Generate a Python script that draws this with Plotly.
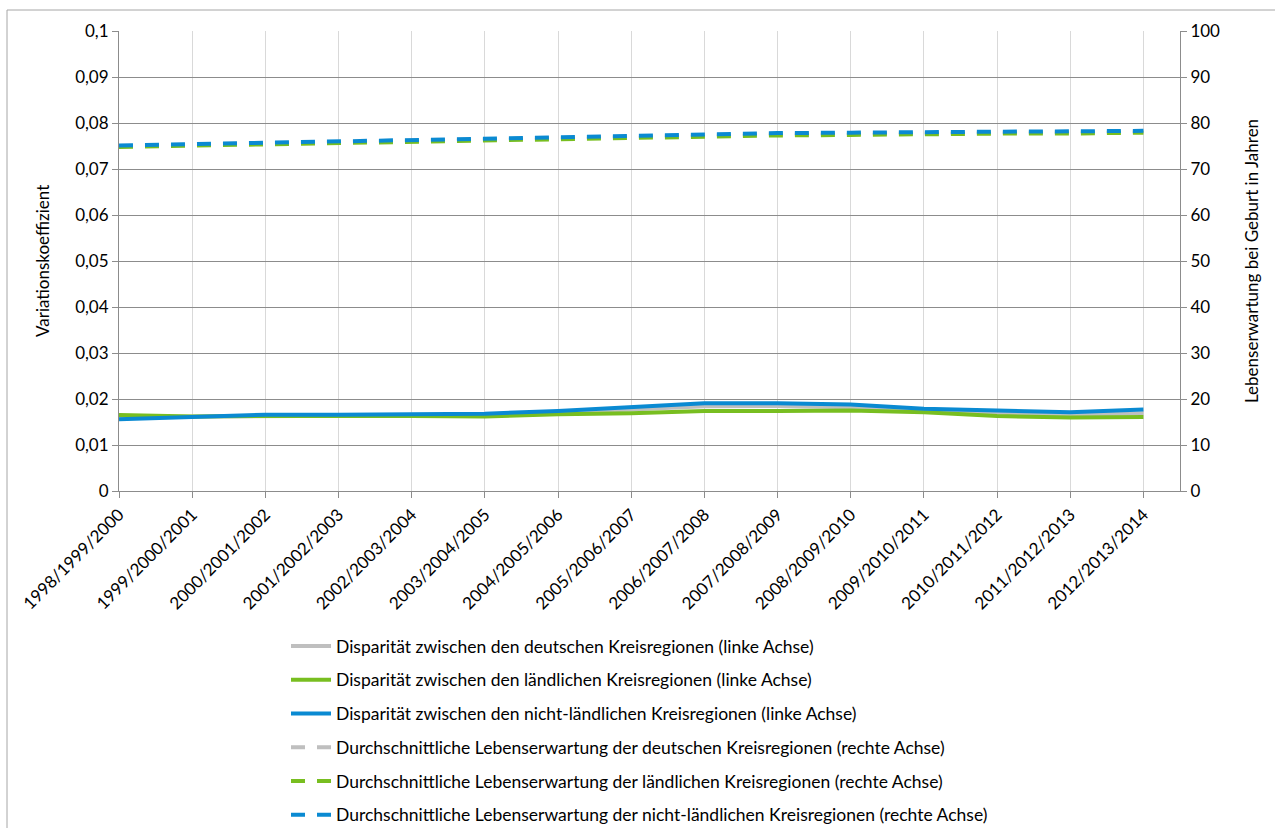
import plotly.graph_objects as go

categories = ["1998/1999/2000", "1999/2000/2001", "2000/2001/2002", "2001/2002/2003",
              "2002/2003/2004", "2003/2004/2005", "2004/2005/2006", "2005/2006/2007",
              "2006/2007/2008", "2007/2008/2009", "2008/2009/2010", "2009/2010/2011",
              "2010/2011/2012", "2011/2012/2013", "2012/2013/2014"]

disp_de = [0.0161, 0.0162, 0.0164, 0.0165, 0.0165, 0.0165, 0.0170, 0.0177, 0.0184, 0.0185,
           0.0182, 0.0175, 0.0168, 0.0166, 0.0169]
disp_laendlich = [0.0165, 0.0162, 0.0163, 0.0164, 0.0163, 0.0162, 0.0167, 0.0169, 0.0174, 0.0174,
                  0.0175, 0.0171, 0.0163, 0.0160, 0.0161]
disp_nicht = [0.0156, 0.0162, 0.0166, 0.0166, 0.0167, 0.0168, 0.0174, 0.0182, 0.0191, 0.0191,
              0.0188, 0.0179, 0.0174, 0.0171, 0.0177]

le_de = [75.0, 75.3, 75.6, 75.8, 76.1, 76.4, 76.8, 77.1, 77.4, 77.6, 77.7, 77.8, 77.9, 77.9, 78.1]
le_laendlich = [74.8, 75.1, 75.4, 75.6, 75.9, 76.2, 76.6, 76.9, 77.2, 77.3, 77.4, 77.6, 77.7, 77.7, 77.9]
le_nicht = [75.1, 75.4, 75.7, 75.9, 76.2, 76.5, 76.9, 77.3, 77.6, 77.8, 77.9, 78.0, 78.1, 78.1, 78.3]

left_ticks = [0, 0.01, 0.02, 0.03, 0.04, 0.05, 0.06, 0.07, 0.08, 0.09, 0.1]
left_ticktext = ["0", "0,01", "0,02", "0,03", "0,04", "0,05", "0,06", "0,07", "0,08", "0,09", "0,1"]
right_ticks = [0, 10, 20, 30, 40, 50, 60, 70, 80, 90, 100]

left_title = "Variationskoeffizient"
right_title = "Lebenserwartung bei Geburt in Jahren"

names = [
    "Disparität zwischen den deutschen Kreisregionen (linke Achse)",
    "Disparität zwischen den ländlichen Kreisregionen (linke Achse)",
    "Disparität zwischen den nicht-ländlichen Kreisregionen (linke Achse)",
    "Durchschnittliche Lebenserwartung der deutschen Kreisregionen (rechte Achse)",
    "Durchschnittliche Lebenserwartung der ländlichen Kreisregionen (rechte Achse)",
    "Durchschnittliche Lebenserwartung der nicht-ländlichen Kreisregionen (rechte Achse)",
]

GRAY = "#BFBFBF"
GREEN = "#78BE20"
BLUE = "#0A8AD2"
FONT = "Lato, 'Open Sans', sans-serif"
FS = 17

xidx = list(range(len(categories)))

fig = go.Figure()
solid = [(disp_de, GRAY), (disp_laendlich, GREEN), (disp_nicht, BLUE)]
for i, (vals, col) in enumerate(solid):
    fig.add_trace(go.Scatter(x=xidx, y=vals, mode="lines", name=names[i],
                             line=dict(color=col, width=4), yaxis="y", legendgroup=f"g{i}"))
dashed = [(le_de, GRAY), (le_laendlich, GREEN), (le_nicht, BLUE)]
for j, (vals, col) in enumerate(dashed):
    fig.add_trace(go.Scatter(x=xidx, y=vals, mode="lines", name=names[3 + j],
                             line=dict(color=col, width=4, dash="14px,12px"), yaxis="y2",
                             legendgroup=f"g{3 + j}"))

W, H = 1275, 828
L, R, T, B = 119, 1180, 31, 491
pw, ph = R - L, B - T

fig.update_layout(
    width=W, height=H,
    margin=dict(l=L, r=W - R, t=T, b=H - B, autoexpand=False),
    paper_bgcolor="white", plot_bgcolor="white",
    font=dict(family=FONT, size=FS, color="#000000"),
    showlegend=True,
    legend=dict(orientation="v", xref="container", yref="container",
                x=286 / W, xanchor="left",
                y=1 - 628 / H, yanchor="top", tracegroupgap=8, itemwidth=40,
                font=dict(size=17.5, family=FONT), bgcolor="rgba(0,0,0,0)"),
    xaxis=dict(range=[0, 14.5], tickmode="array", tickvals=xidx, ticktext=categories,
               tickangle=-45, showgrid=True, gridcolor="#D9D9D9", gridwidth=1,
               ticks="outside", ticklen=6, tickcolor="#8C8C8C", automargin=False,
               showline=True, linecolor="#8C8C8C", linewidth=1, zeroline=False,
               tickfont=dict(size=FS)),
    yaxis=dict(range=[0, 0.1], tickmode="array", tickvals=left_ticks, ticktext=left_ticktext,
               showgrid=True, gridcolor="#8C8C8C", gridwidth=1, automargin=False,
               ticks="outside", ticklen=6, tickcolor="#8C8C8C",
               showline=True, linecolor="#8C8C8C", linewidth=1, zeroline=False,
               tickfont=dict(size=FS)),
    yaxis2=dict(range=[0, 100], tickmode="array", tickvals=right_ticks,
                overlaying="y", side="right", showgrid=False, automargin=False,
                ticks="outside", ticklen=6, tickcolor="#8C8C8C",
                showline=True, linecolor="#8C8C8C", linewidth=1, zeroline=False,
                tickfont=dict(size=FS)),
)

# axis titles
fig.add_annotation(text=left_title, xref="paper", yref="paper",
                   x=(42 - L) / pw, y=0.5, xanchor="center", yanchor="middle",
                   textangle=-90, showarrow=False, font=dict(size=FS, family=FONT))
fig.add_annotation(text=right_title, xref="paper", yref="paper",
                   x=(1251 - L) / pw, y=0.5, xanchor="center", yanchor="middle",
                   textangle=-90, showarrow=False, font=dict(size=FS, family=FONT))

# outer chart border (left and top edges)
bx = (7 - L) / pw
by = (B - 10) / ph
fig.add_shape(type="line", xref="paper", yref="paper", x0=bx, x1=bx, y0=by, y1=(B - H - 5) / ph,
              line=dict(color="#A6A6A6", width=1))
fig.add_shape(type="line", xref="paper", yref="paper", x0=bx, x1=(W + 5 - L) / pw, y0=by, y1=by,
              line=dict(color="#A6A6A6", width=1))

fig.write_html("out.html", config={"displayModeBar": False},
               post_script="document.body.style.margin='0';")
